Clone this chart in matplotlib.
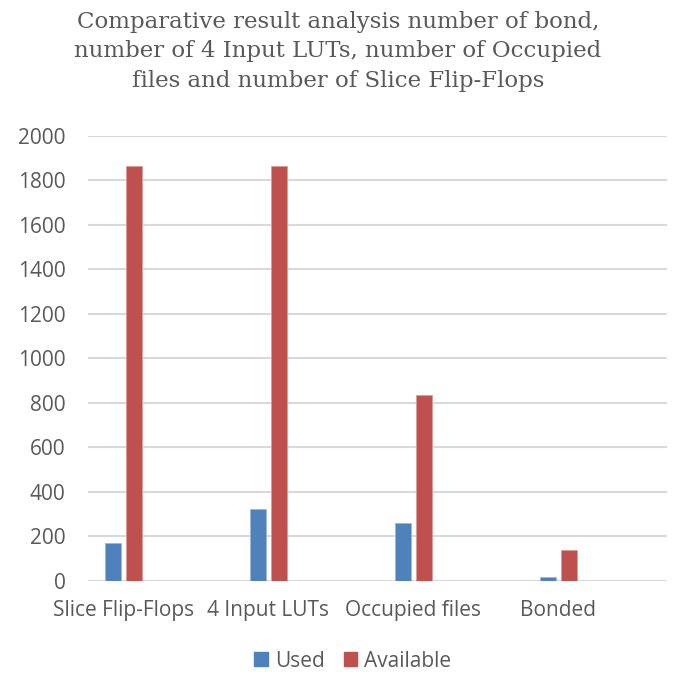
import numpy as np
import matplotlib.pyplot as plt
from matplotlib.patches import Patch

categories = ['Slice Flip-Flops', '4 Input LUTs', 'Occupied files', 'Bonded']
used = [170, 322, 259, 17]
available = [1866, 1866, 837, 137]

blue = '#4F81BD'
red = '#C0504D'
grey = '#595959'

fig = plt.figure(figsize=(6.76, 6.74), dpi=100)
ax = fig.add_axes([0.130, 0.1384, 0.856, 0.6598])

x = np.arange(len(categories))
w = 0.11
ax.bar(x - 0.0724, used, w, color=blue, edgecolor='#9db7d9', linewidth=0.6, label='Used', zorder=3)
ax.bar(x + 0.0724, available, w, color=red, edgecolor='#dd9a98', linewidth=0.6, label='Available', zorder=3)

ax.set_xlim(-0.245, 3.745)
ax.set_ylim(0, 2000)
ax.set_yticks(range(0, 2001, 200))
ax.yaxis.grid(True, color='#D9D9D9', linewidth=1.5, zorder=0)
for s in ax.spines.values():
    s.set_visible(False)
ax.tick_params(length=0)
ax.tick_params(axis='y', pad=16, labelsize=15, labelcolor=grey)
ax.tick_params(axis='x', pad=14, labelsize=15, labelcolor=grey)
ax.set_xticks(x)
ax.set_xticklabels(categories, fontfamily='Open Sans')
for t in ax.get_yticklabels():
    t.set_fontfamily('Open Sans')

fig.text(0.5, 0.984, 'Comparative result analysis number of bond,\nnumber of 4 Input LUTs, number of Occupied\nfiles and number of Slice Flip-Flops',
         ha='center', va='top', fontsize=16.5, color=grey, family='DejaVu Serif', linespacing=1.45)

handles = [Patch(color=blue, label='Used'), Patch(color=red, label='Available')]
fig.legend(handles=handles, loc='center', bbox_to_anchor=(0.522, 0.019), ncol=2, frameon=False,
           prop={'family': 'Open Sans', 'size': 15}, labelcolor=grey, borderpad=0.1,
           handlelength=0.65, handleheight=0.65, handletextpad=0.35, columnspacing=0.9)

fig.savefig('out.png', dpi=100)
